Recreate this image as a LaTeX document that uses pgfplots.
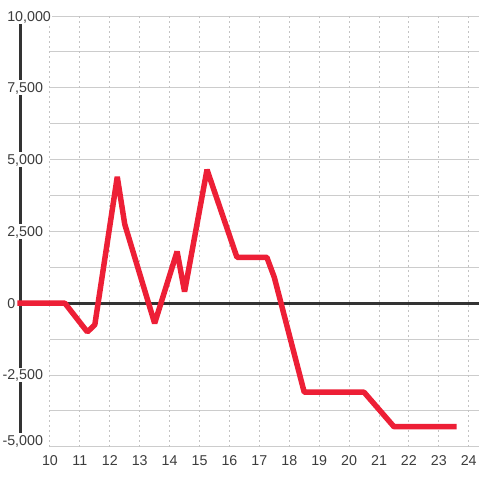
\documentclass[border=0pt]{standalone}
\usepackage{fontspec}
\setmainfont{Liberation Sans}
\usepackage{pgfplots}
\pgfplotsset{compat=1.18}
\definecolor{linered}{RGB}{237,31,54}
\definecolor{axisdark}{RGB}{51,51,51}
\definecolor{gridgray}{RGB}{204,204,204}
\definecolor{dashgray}{RGB}{195,195,195}
\definecolor{labelgray}{RGB}{60,60,60}
\begin{document}
\begin{tikzpicture}
\begin{axis}[
  set layers=standard,
  scale only axis,
  width=480pt, height=480pt,
  xmin=8.333333, xmax=24.333333,
  ymin=-6111.11, ymax=10555.56,
  scaled ticks=false,
  axis line style={draw=none},
  major tick length=0pt,
  minor tick length=0pt,
  xtick={10,11,12,13,14,15,16,17,18,19,20,21,22,23,24},
  xticklabels={10,11,12,13,14,15,16,17,18,19,20,21,22,23,24},
  ytick={-2500,0,2500,5000,7500,10000},
  yticklabels={{\llap{-}2{,}500},0,{2{,}500},{5{,}000},{7{,}500},{10{,}000}},
  extra y ticks={-5000},
  extra y tick labels={\llap{-}5{,}000},
  extra y tick style={yticklabel style={yshift=6pt}},
  xticklabel style={anchor=center, yshift=18pt, text depth=0pt,
    font=\fontsize{14.3}{14.3}\selectfont, text=labelgray},
  yticklabel style={anchor=west, xshift=6pt, inner xsep=1pt, inner ysep=2.5pt,
    fill=white, text depth=0pt, font=\fontsize{14.3}{14.3}\selectfont, text=labelgray},
]
\begin{pgfonlayer}{axis background}
\pgfplotsinvokeforeach{-5000,-3750,-2500,-1250,1250,2500,3750,5000,6250,7500,8750,10000}{
  \draw[gridgray, line width=1pt] (axis cs:10,#1) -- (axis cs:24.333333,#1);
}
\pgfplotsinvokeforeach{10,11,12,13,14,15,16,17,18,19,20,21,22,23,24}{
  \draw[dashgray, line width=1pt, dash pattern=on 2pt off 3pt] (axis cs:#1,-5000) -- (axis cs:#1,10000);
}
\draw[axisdark, line width=3pt] (axis cs:9,-5000) -- (axis cs:9,10000);
\draw[axisdark, line width=3pt] (axis cs:9,0) -- (axis cs:24.333333,0);
\end{pgfonlayer}
\addplot[linered, line width=5.5pt, line join=bevel, line cap=rect] coordinates {
  (9,0) (10.5,0) (11.25,-1000) (11.5,-750) (12.25,4400) (12.5,2750)
  (13.5,-700) (14.25,1800) (14.5,400) (15.25,4650) (16.25,1600)
  (17.25,1600) (17.5,900) (18.5,-3100) (20.5,-3100) (21.5,-4300) (23.5,-4300)
};
\end{axis}
\end{tikzpicture}
\end{document}
